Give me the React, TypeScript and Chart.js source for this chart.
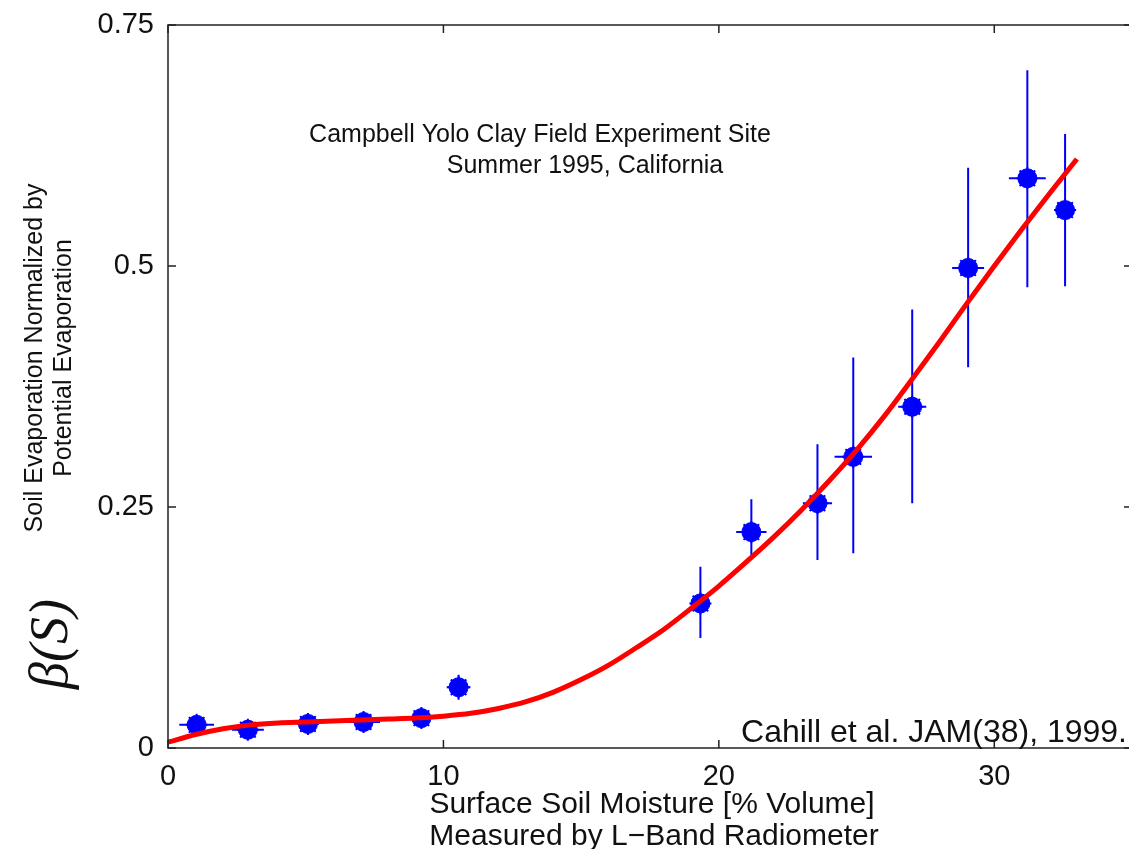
import React, { useEffect, useRef } from 'react';
import { Chart, registerables } from 'chart.js';

Chart.register(...registerables);

// Measured points: surface soil moisture [% vol] vs. normalized evaporation
const soilMoisture = [1.04, 2.9, 5.08, 7.1, 9.2, 10.55, 19.33, 21.18, 23.58, 24.88, 27.02, 29.05, 31.2, 32.57];
const evapRatio = [0.024, 0.019, 0.025, 0.027, 0.031, 0.063, 0.15, 0.224, 0.254, 0.302, 0.354, 0.498, 0.591, 0.558];
// Horizontal error half-widths (moisture units)
const moistureErr = [0.63, 0.58, 0.36, 0.6, 0.3, 0.43, 0.3, 0.55, 0.53, 0.68, 0.51, 0.58, 0.67, 0.4];
// Vertical error bar ends
const evapLow = [0.018, 0.013, 0.019, 0.021, 0.025, 0.05, 0.114, 0.197, 0.195, 0.202, 0.254, 0.395, 0.478, 0.479];
const evapHigh = [0.03, 0.025, 0.031, 0.033, 0.037, 0.076, 0.188, 0.258, 0.315, 0.405, 0.455, 0.602, 0.703, 0.637];

// Fitted beta(S) curve
const fitMoisture = [0, 1, 2, 3, 4, 5, 6, 7, 8, 9, 10, 11, 12, 13, 14, 15, 16, 17, 18, 19, 20, 21, 22, 23, 24, 25, 26, 27, 28, 29, 30, 31, 32, 33];
const fitRatio = [0.006, 0.014, 0.02, 0.024, 0.026, 0.027, 0.028, 0.029, 0.03, 0.031, 0.033, 0.036, 0.041, 0.048, 0.058, 0.071, 0.086, 0.104, 0.123, 0.145, 0.168, 0.193, 0.219, 0.247, 0.277, 0.309, 0.344, 0.382, 0.421, 0.461, 0.5, 0.538, 0.575, 0.611];

const xTicks = [0, 10, 20, 30];
const xTickLabels = ['0', '10', '20', '30'];
const yTicks = [0, 0.25, 0.5, 0.75];
const yTickLabels = ['0', '0.25', '0.5', '0.75'];

const titleLines = ['Campbell Yolo Clay Field Experiment Site', 'Summer 1995, California'];
const xTitleLines = ['Surface Soil Moisture [% Volume]', 'Measured by L\u2212Band Radiometer'];
const yTitleLines = ['Soil Evaporation Normalized by', 'Potential Evaporation'];
const symbolLabel = '\u03B2(S)';
const citation = 'Cahill et al. JAM(38), 1999.';

const SANS = '"Liberation Sans", Arial, Helvetica, sans-serif';
const SERIF = '"Liberation Serif", "Times New Roman", serif';
const INK = '#111111';
const BLUE = '#0000ff';

const decorPlugin = {
  id: 'decor',
  beforeDatasetsDraw(chart: any) {
    const { ctx, scales } = chart;
    const xs = scales.x;
    const ys = scales.y;
    ctx.save();
    ctx.strokeStyle = BLUE;
    ctx.lineWidth = 2;
    for (let i = 0; i < soilMoisture.length; i++) {
      const px = xs.getPixelForValue(soilMoisture[i]);
      const py = ys.getPixelForValue(evapRatio[i]);
      ctx.beginPath();
      ctx.moveTo(px, ys.getPixelForValue(evapLow[i]));
      ctx.lineTo(px, ys.getPixelForValue(evapHigh[i]));
      ctx.moveTo(xs.getPixelForValue(soilMoisture[i] - moistureErr[i]), py);
      ctx.lineTo(xs.getPixelForValue(soilMoisture[i] + moistureErr[i]), py);
      ctx.stroke();
    }
    ctx.restore();
  },
  afterDatasetsDraw(chart: any) {
    const { ctx, chartArea, scales } = chart;
    const { left, right, top, bottom } = chartArea;
    const xs = scales.x;
    const ys = scales.y;
    ctx.save();
    // axes box
    ctx.strokeStyle = '#222';
    ctx.lineWidth = 1.5;
    ctx.strokeRect(left, top, right - left, bottom - top);
    // inward tick marks on all four sides
    const tl = 8;
    ctx.beginPath();
    xTicks.forEach((v) => {
      const px = xs.getPixelForValue(v);
      ctx.moveTo(px, bottom);
      ctx.lineTo(px, bottom - tl);
      ctx.moveTo(px, top);
      ctx.lineTo(px, top + tl);
    });
    yTicks.forEach((v) => {
      const py = ys.getPixelForValue(v);
      ctx.moveTo(left, py);
      ctx.lineTo(left + tl, py);
      ctx.moveTo(right, py);
      ctx.lineTo(right - tl, py);
    });
    ctx.stroke();

    ctx.fillStyle = INK;
    ctx.textBaseline = 'alphabetic';
    // site annotation
    ctx.font = `25px ${SANS}`;
    ctx.textAlign = 'center';
    ctx.fillText(titleLines[0], 540, 142);
    ctx.fillText(titleLines[1], 585, 173);
    // citation
    ctx.font = `32px ${SANS}`;
    ctx.textAlign = 'right';
    ctx.fillText(citation, 1127, 742);
    // x axis title
    ctx.font = `30px ${SANS}`;
    ctx.textAlign = 'center';
    ctx.fillText(xTitleLines[0], 652, 813);
    ctx.fillText(xTitleLines[1], 654, 845);
    // y axis title (rotated)
    ctx.save();
    ctx.rotate(-Math.PI / 2);
    ctx.font = `25px ${SANS}`;
    ctx.textAlign = 'center';
    ctx.fillText(yTitleLines[0], -358, 42);
    ctx.fillText(yTitleLines[1], -358, 71);
    ctx.font = `italic 54px ${SERIF}`;
    ctx.fillText(symbolLabel, -644, 67);
    ctx.restore();
    ctx.restore();
  },
};

export default function App() {
  const canvasRef = useRef<HTMLCanvasElement>(null);

  useEffect(() => {
    const canvas = canvasRef.current;
    if (!canvas) return;
    const points = soilMoisture.map((x, i) => ({ x, y: evapRatio[i] }));
    const fit = fitMoisture.map((x, i) => ({ x, y: fitRatio[i] }));
    const chart = new Chart(canvas, {
      type: 'scatter',
      data: {
        datasets: [
          {
            label: 'fit',
            data: fit,
            showLine: true,
            borderColor: '#ff0000',
            borderWidth: 5,
            pointRadius: 0,
            cubicInterpolationMode: 'monotone',
            order: 0,
          },
          {
            label: 'spikes',
            data: points,
            pointStyle: 'star',
            pointRadius: 11,
            borderColor: BLUE,
            borderWidth: 2,
            backgroundColor: BLUE,
            order: 1,
          },
          {
            label: 'observed',
            data: points,
            pointStyle: 'circle',
            pointRadius: 9.5,
            backgroundColor: BLUE,
            borderColor: BLUE,
            borderWidth: 1,
            order: 2,
          },
        ],
      },
      options: {
        responsive: false,
        animation: false,
        events: [],
        layout: { padding: { top: 25, right: 12, left: 0, bottom: 0 } },
        plugins: { legend: { display: false }, tooltip: { enabled: false } },
        scales: {
          x: {
            type: 'linear',
            min: 0,
            max: 35,
            afterBuildTicks: (s: any) => {
              s.ticks = xTicks.map((value) => ({ value }));
            },
            afterFit: (s: any) => {
              s.height = 101;
            },
            grid: { display: false },
            border: { display: false },
            ticks: {
              color: INK,
              padding: 4,
              maxRotation: 0,
              font: { family: SANS, size: 29 },
              callback: (_v: any, i: number) => xTickLabels[i],
            },
          },
          y: {
            type: 'linear',
            min: 0,
            max: 0.75,
            afterBuildTicks: (s: any) => {
              s.ticks = yTicks.map((value) => ({ value }));
            },
            afterFit: (s: any) => {
              s.width = 168;
            },
            grid: { display: false },
            border: { display: false },
            ticks: {
              color: INK,
              padding: 6,
              font: { family: SANS, size: 29 },
              callback: (_v: any, i: number) => yTickLabels[i],
            },
          },
        },
      },
      plugins: [decorPlugin],
    } as any);
    return () => chart.destroy();
  }, []);

  return (
    <div
      style={{
        position: 'absolute',
        left: 0,
        top: 0,
        width: 1129,
        height: 849,
        overflow: 'hidden',
        background: '#ffffff',
      }}
    >
      <canvas ref={canvasRef} width={1145} height={849} style={{ display: 'block', width: 1145, height: 849 }} />
    </div>
  );
}
